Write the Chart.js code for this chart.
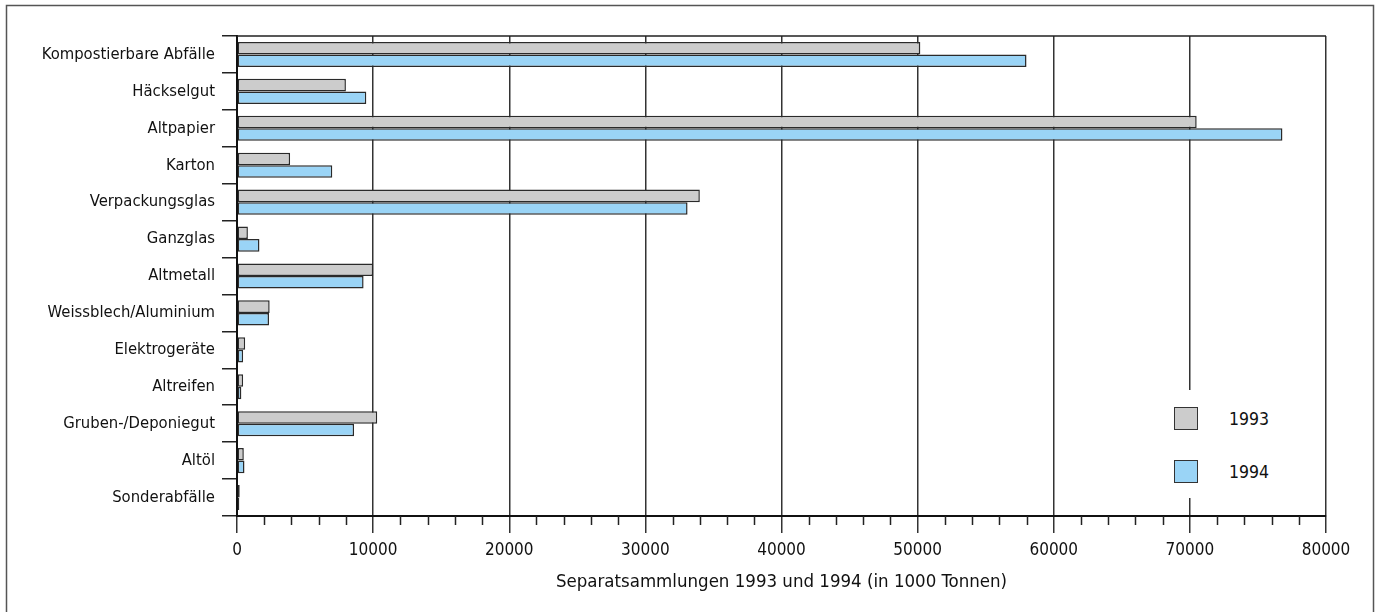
<!DOCTYPE html>
<html>
<head>
<meta charset="utf-8">
<title>Separatsammlungen 1993 und 1994</title>
<script src="https://cdn.jsdelivr.net/npm/chart.js@4.4.1/dist/chart.umd.min.js"></script>
<style>
  body { margin: 0; background: #fff; }
  #wrap { position: relative; width: 1375px; height: 612px; overflow: hidden; }
  #legend {
    position: absolute; left: 1160px; top: 390px; width: 130px; height: 108px;
    background: #fff; color: #111;
    font-family: 'DejaVu Sans Condensed', sans-serif; font-size: 17.5px;
  }
  .item { position: absolute; left: 14px; height: 25px; display: flex; align-items: center; }
  .box { width: 22px; height: 21px; border: 1.5px solid #333; margin-right: 31px; }
</style>
</head>
<body>
<div id="wrap">
  <canvas id="chart" width="1375" height="612"></canvas>
  <div id="legend"></div>
</div>
<script>
// data (1000 Tonnen)
const categories = ['Kompostierbare Abfälle', 'Häckselgut', 'Altpapier', 'Karton', 'Verpackungsglas',
  'Ganzglas', 'Altmetall', 'Weissblech/Aluminium', 'Elektrogeräte', 'Altreifen',
  'Gruben-/Deponiegut', 'Altöl', 'Sonderabfälle'];
const years = ['1993', '1994'];
const values1993 = [50200, 8000, 70500, 3900, 34000, 800, 10000, 2400, 600, 450, 10300, 500, 200];
const values1994 = [58000, 9500, 76800, 7000, 33100, 1650, 9300, 2350, 450, 320, 8600, 550, 170];
const xMax = 80000;
const xStep = 10000;
const xMinorStep = 2000;
const axisTitle = 'Separatsammlungen 1993 und 1994 (in 1000 Tonnen)';

const FONT = "'DejaVu Sans Condensed', sans-serif";
const colors = ['#cccccc', '#9ad4f6'];

// outer frame + top line of plot + small ticks on x axis
const decor = {
  id: 'decor',
  beforeDraw(chart) {
    let c = chart.ctx;
    c.save();
    c.strokeStyle = '#555';
    c.lineWidth = 1.5;
    c.strokeRect(6.5, 5.5, 1367, 650);
    c.restore();
  },
  afterDraw(chart) {
    let c = chart.ctx;
    let a = chart.chartArea;
    let x = chart.scales.x;
    c.save();
    c.strokeStyle = '#222';
    c.lineWidth = 1.5;
    c.beginPath();
    c.moveTo(a.left, a.top);
    c.lineTo(a.right, a.top);
    for (let v = xMinorStep; v < xMax; v += xMinorStep) {
      if (v % xStep === 0) continue;
      let px = Math.round(x.getPixelForValue(v)) + 0.5;
      c.moveTo(px, a.bottom);
      c.lineTo(px, a.bottom + 9);
    }
    c.stroke();
    c.restore();
  }
};

const chart = new Chart(document.getElementById('chart').getContext('2d'), {
  type: 'bar',
  data: {
    labels: categories,
    datasets: [
      { label: years[0], data: values1993, backgroundColor: colors[0] },
      { label: years[1], data: values1994, backgroundColor: colors[1] }
    ]
  },
  options: {
    indexAxis: 'y',
    responsive: false,
    animation: false,
    layout: { padding: { left: 0, right: 49, top: 36, bottom: 0 } },
    datasets: {
      bar: {
        borderColor: '#2a2a2a', borderWidth: 1.5, borderSkipped: false,
        categoryPercentage: 0.68, barPercentage: 1.0
      }
    },
    plugins: {
      legend: { display: false },
      tooltip: { enabled: false }
    },
    scales: {
      x: {
        type: 'linear', min: 0, max: xMax,
        ticks: {
          stepSize: xStep, font: { family: FONT, size: 17 }, color: '#111', padding: 7, maxRotation: 0,
          callback: function (v) { return String(v); }
        },
        grid: { color: '#333', lineWidth: 1.5, tickLength: 17, tickColor: '#333' },
        border: { color: '#111', width: 2 },
        title: { display: true, text: axisTitle, font: { family: FONT, size: 18.5 }, color: '#111', padding: { top: 0, bottom: 19 } },
        afterFit(s) { s.height = 96; }
      },
      y: {
        grid: { drawOnChartArea: false, drawTicks: true, tickLength: 15, color: '#222', lineWidth: 1.5, offset: true },
        border: { color: '#111', width: 2 },
        ticks: { font: { family: FONT, size: 16.5 }, color: '#111', padding: 7, autoSkip: false },
        afterFit(s) { s.width = 237; }
      }
    }
  },
  plugins: [decor]
});

// legend drawn as html over the chart, from the datasets
let legend = document.getElementById('legend');
chart.data.datasets.forEach(function (ds, i) {
  let item = document.createElement('div');
  item.className = 'item';
  item.style.top = (16 + i * 53) + 'px';
  item.innerHTML = '<span class="box" style="background:' + ds.backgroundColor + '"></span>' + ds.label;
  legend.appendChild(item);
});
</script>
</body>
</html>
